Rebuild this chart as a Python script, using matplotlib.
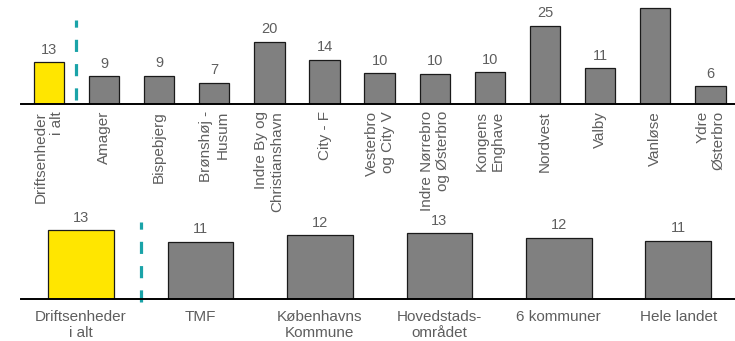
import matplotlib
matplotlib.use("Agg")
import matplotlib.pyplot as plt

plt.rcParams['font.family'] = ['Liberation Sans', 'DejaVu Sans']

# Bydele (top panel)
bydele = ['Driftsenheder\ni alt', 'Amager', 'Bispebjerg', 'Brønshøj -\nHusum',
          'Indre By og\nChristianshavn', 'City - F', 'Vesterbro\nog City V',
          'Indre Nørrebro\nog Østerbro', 'Kongens\nEnghave', 'Nordvest', 'Valby',
          'Vanløse', 'Ydre\nØsterbro']
bydele_vaerdi = [13.3, 8.9, 9.0, 6.7, 19.9, 14.2, 9.8, 9.6, 10.1, 24.9, 11.4, 30.8, 5.6]

# Sammenligning (bottom panel)
omraader = ['Driftsenheder\ni alt', 'TMF', 'Københavns\nKommune', 'Hovedstads-\nområdet',
            '6 kommuner', 'Hele landet']
omraader_vaerdi = [13.2, 11.0, 12.3, 12.7, 11.8, 11.2]

GRAA = '#808080'
GUL = '#FFE600'
TEKST = '#5e5e5e'
STREG = '#1AA3A8'

fig = plt.figure(figsize=(7.35, 3.41), dpi=100)
ax1 = fig.add_axes([0.029, 0.695, 0.975, 0.305])
ax2 = fig.add_axes([0.029, 0.123, 0.975, 0.32])


def tegn(ax, labels, values, ymax, rot):
    farver = [GUL] + [GRAA] * (len(values) - 1)
    x = range(len(values))
    bars = ax.bar(x, values, width=0.55, color=farver, edgecolor='#1a1a1a', linewidth=0.9, zorder=2)
    for b, v in zip(bars, values):
        # labels that would land above the visible area are left out
        if v > ymax * 0.85:
            continue
        ax.annotate(f'{v:.0f}', (b.get_x() + b.get_width() / 2, v), xytext=(0, 4),
                    textcoords='offset points', ha='center', va='bottom',
                    fontsize=10.5, color=TEKST, annotation_clip=False)
    ax.set_xlim(-0.5, len(values) - 0.5)
    ax.set_ylim(0, ymax)
    ax.set_xticks(list(x))
    if rot:
        ax.set_xticklabels(labels, rotation=90, ha='center', va='top',
                           multialignment='right', fontsize=11, color=TEKST)
        ax.tick_params(axis='x', length=0, pad=5)
    else:
        ax.set_xticklabels(labels, fontsize=11, color=TEKST, multialignment='center')
        ax.tick_params(axis='x', length=0, pad=8)
    ax.set_yticks([])
    for s in ['top', 'right', 'left']:
        ax.spines[s].set_visible(False)
    ax.spines['bottom'].set_linewidth(1.4)
    ax.spines['bottom'].set_zorder(3)
    ax.patch.set_visible(False)


tegn(ax1, bydele, bydele_vaerdi, 33.2, True)
tegn(ax2, omraader, omraader_vaerdi, 21.0, False)

ax1.axvline(0.5, ymin=0.04, ymax=0.81, color=STREG, lw=2.3, ls=(0, (3.8, 3.8)))
ax2.axvline(0.5, ymin=-0.03, ymax=0.71, color=STREG, lw=2.3, ls=(0, (3.8, 3.8)),
            clip_on=False)

fig.savefig('out.png', dpi=100)
